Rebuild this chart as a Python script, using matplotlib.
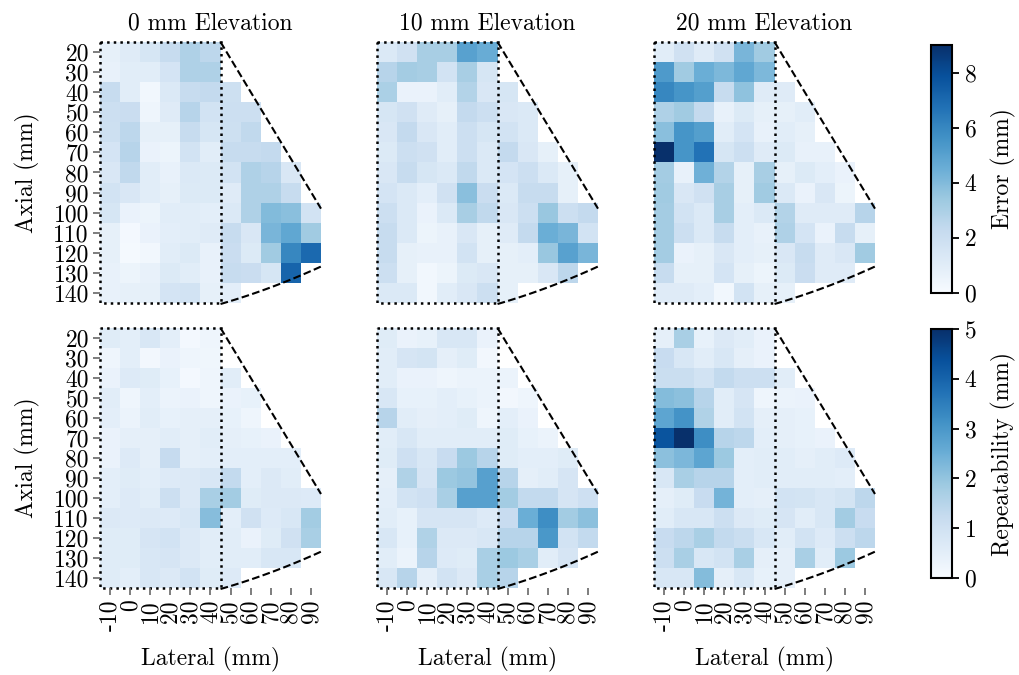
import numpy as np
import matplotlib
matplotlib.use("Agg")
import matplotlib.pyplot as plt
from matplotlib.patches import Rectangle

plt.rcParams['font.family'] = 'serif'
plt.rcParams['font.serif'] = ['cmr10', 'DejaVu Serif']
plt.rcParams['mathtext.fontset'] = 'cm'
plt.rcParams['axes.unicode_minus'] = False
plt.rcParams['axes.formatter.use_mathtext'] = True

n = np.nan
lateral = [-10, 0, 10, 20, 30, 40, 50, 60, 70, 80, 90]
axial = [20, 30, 40, 50, 60, 70, 80, 90, 100, 110, 120, 130, 140]
titles = ["0 mm Elevation", "10 mm Elevation", "20 mm Elevation"]

# error (mm), rows = axial, cols = lateral
err_0 = np.array([
    [0.8, 1.1, 1.5, 2.2, 2.9, 2.5, n, n, n, n, n],
    [0.7, 1.0, 1.0, 1.6, 2.9, 2.9, n, n, n, n, n],
    [2.2, 1.0, 0.3, 1.3, 2.2, 2.3, 1.9, n, n, n, n],
    [2.0, 2.1, 0.4, 1.1, 2.7, 1.7, 2.0, 2.0, n, n, n],
    [1.9, 2.5, 0.8, 0.8, 2.2, 1.5, 1.9, 2.4, n, n, n],
    [1.6, 2.7, 0.6, 0.5, 1.7, 1.0, 2.2, 2.2, 2.3, n, n],
    [1.4, 2.4, 1.0, 0.7, 1.3, 1.2, 1.7, 2.9, 2.7, 1.4, n],
    [1.7, 1.4, 1.0, 0.8, 1.2, 1.2, 1.1, 2.9, 2.9, 2.2, n],
    [1.5, 0.6, 0.5, 1.0, 1.0, 0.9, 1.3, 2.9, 4.0, 3.8, 1.7],
    [0.8, 0.2, 0.6, 0.9, 1.0, 1.1, 2.2, 1.4, 4.2, 4.8, 3.3],
    [0.8, 0.15, 0.3, 1.0, 1.2, 0.7, 2.1, 1.2, 3.3, 6.0, 7.0],
    [0.7, 0.5, 0.7, 1.2, 1.0, 0.7, 2.2, 2.1, 1.5, 7.2, n],
    [0.7, 0.8, 0.8, 1.6, 1.7, 0.8, 0.9, n, n, n, n],
])
err_10 = np.array([
    [1.3, 1.8, 3.1, 3.1, 5.0, 4.6, n, n, n, n, n],
    [2.7, 3.2, 3.1, 1.7, 3.1, 1.5, n, n, n, n, n],
    [3.0, 0.6, 0.6, 1.0, 2.8, 1.4, 1.5, n, n, n, n],
    [1.5, 1.8, 1.1, 0.8, 2.3, 2.0, 1.4, 1.3, n, n, n],
    [1.4, 2.3, 1.4, 1.0, 2.0, 1.5, 1.7, 1.3, n, n, n],
    [1.2, 2.0, 1.8, 1.0, 2.0, 1.3, 2.3, 1.4, 0.8, n, n],
    [1.4, 2.2, 1.5, 1.3, 2.4, 1.3, 1.6, 2.0, 1.3, 0.8, n],
    [1.6, 1.3, 0.9, 1.8, 3.8, 2.1, 1.3, 2.2, 2.2, 0.8, n],
    [2.0, 1.3, 0.6, 1.3, 3.1, 2.4, 1.4, 2.0, 3.5, 2.0, 2.3],
    [2.2, 1.3, 0.5, 0.7, 1.4, 0.8, 1.1, 2.3, 4.5, 4.2, 1.7],
    [2.2, 0.8, 0.7, 0.7, 1.7, 0.8, 0.8, 0.9, 3.5, 5.0, 4.2],
    [2.0, 0.8, 0.3, 0.5, 1.2, 1.4, 0.8, 0.8, 1.4, 2.5, n],
    [1.3, 1.3, 0.3, 1.0, 1.4, 2.0, 0.8, n, n, n, n],
])
err_20 = np.array([
    [1.0, 1.8, 1.1, 1.8, 4.2, 3.3, n, n, n, n, n],
    [5.3, 3.3, 4.5, 4.1, 4.8, 4.1, n, n, n, n, n],
    [6.0, 5.5, 5.1, 2.2, 3.7, 1.1, 1.1, n, n, n, n],
    [2.9, 3.3, 2.3, 0.7, 1.2, 0.8, 0.8, 1.0, n, n, n],
    [3.8, 5.5, 5.1, 1.0, 1.6, 0.7, 1.0, 0.8, n, n, n],
    [9.0, 5.5, 6.7, 1.5, 2.0, 1.1, 1.2, 0.7, 0.7, n, n],
    [3.2, 0.7, 4.4, 2.8, 0.8, 3.1, 0.8, 1.2, 0.9, 0.6, n],
    [3.3, 1.4, 1.8, 3.1, 0.8, 3.3, 1.3, 0.6, 1.4, 0.5, n],
    [3.2, 1.7, 1.3, 3.1, 0.9, 1.3, 2.8, 1.1, 1.1, 1.1, 2.7],
    [3.2, 2.0, 1.3, 2.2, 0.9, 0.7, 2.9, 1.6, 0.6, 2.2, 0.8],
    [3.2, 0.6, 0.8, 1.4, 0.9, 0.8, 1.4, 2.2, 1.1, 1.4, 3.3],
    [2.2, 0.8, 0.8, 1.6, 0.8, 0.5, 1.2, 2.1, 1.1, 1.1, n],
    [1.1, 1.1, 0.9, 0.3, 1.7, 0.8, 0.8, n, n, n, n],
])

# repeatability (mm)
rep_0 = np.array([
    [0.6, 0.5, 0.8, 0.5, 0.1, 0.25, n, n, n, n, n],
    [0.25, 0.5, 0.15, 0.35, 0.25, 0.2, n, n, n, n, n],
    [0.35, 0.65, 0.6, 0.4, 0.1, 0.25, 0.55, n, n, n, n],
    [0.55, 0.25, 0.5, 0.3, 0.35, 0.25, 0.35, 0.4, n, n, n],
    [0.5, 0.3, 0.55, 0.4, 0.45, 0.45, 0.4, 0.25, n, n, n],
    [0.35, 0.45, 0.45, 0.55, 0.45, 0.55, 0.45, 0.4, 0.35, n, n],
    [0.35, 0.65, 0.45, 1.25, 0.45, 0.5, 0.5, 0.5, 0.5, 0.5, n],
    [0.5, 0.6, 0.5, 0.65, 0.7, 0.8, 1.3, 0.5, 0.7, 0.55, n],
    [0.5, 0.65, 0.55, 1.1, 0.7, 1.7, 1.8, 0.6, 0.7, 0.7, 0.65],
    [0.7, 0.65, 0.7, 0.65, 0.8, 2.15, 0.5, 1.0, 0.65, 0.8, 1.8],
    [0.6, 0.6, 0.85, 0.95, 0.7, 0.55, 0.55, 0.35, 0.6, 1.0, 1.7],
    [0.6, 0.6, 0.8, 0.85, 0.7, 0.55, 0.55, 0.55, 0.8, 0.8, n],
    [0.6, 0.5, 0.8, 0.7, 0.95, 0.6, 0.65, n, n, n, n],
])
rep_10 = np.array([
    [0.6, 0.35, 0.4, 0.8, 0.8, 0.35, n, n, n, n, n],
    [0.55, 0.85, 0.9, 0.45, 0.6, 0.15, n, n, n, n, n],
    [0.55, 0.35, 0.35, 0.25, 0.3, 0.3, 0.3, n, n, n, n],
    [0.8, 0.4, 0.4, 0.5, 0.4, 0.3, 0.15, 0.25, n, n, n],
    [1.5, 0.55, 0.45, 0.5, 0.6, 0.25, 0.5, 0.35, n, n, n],
    [0.55, 0.8, 0.55, 0.55, 0.55, 0.55, 0.6, 0.4, 0.3, n, n],
    [0.6, 1.05, 0.8, 1.2, 1.9, 1.5, 0.6, 0.5, 0.5, 0.6, n],
    [0.45, 1.6, 0.85, 1.9, 2.0, 2.8, 1.5, 0.45, 0.55, 0.85, n],
    [0.5, 0.95, 1.05, 1.7, 2.8, 2.8, 1.8, 1.3, 1.3, 0.85, 1.05],
    [0.55, 0.4, 0.85, 0.85, 0.85, 0.65, 1.2, 2.5, 3.2, 1.8, 2.1],
    [0.8, 0.4, 1.6, 0.7, 0.7, 0.8, 1.5, 1.5, 3.0, 0.95, 1.3],
    [0.55, 0.3, 1.5, 0.65, 0.6, 1.7, 1.9, 1.7, 0.55, 0.85, n],
    [0.8, 1.5, 0.45, 0.95, 0.7, 1.7, 1.5, n, n, n, n],
])
rep_20 = np.array([
    [0.45, 1.7, 0.4, 0.7, 0.55, 0.35, n, n, n, n, n],
    [1.2, 0.8, 0.55, 0.8, 0.45, 0.35, n, n, n, n, n],
    [1.15, 1.15, 0.95, 1.3, 1.1, 1.1, 0.55, n, n, n, n],
    [2.2, 2.1, 1.5, 0.55, 0.85, 0.25, 0.3, 0.35, n, n, n],
    [2.7, 3.1, 1.6, 0.55, 0.95, 0.45, 0.45, 0.4, n, n, n],
    [4.3, 5.0, 3.2, 1.5, 1.4, 0.5, 0.45, 0.4, 0.35, n, n],
    [2.1, 2.3, 2.7, 1.9, 0.5, 0.55, 0.55, 0.45, 0.55, 0.65, n],
    [0.8, 1.7, 1.5, 1.5, 0.5, 0.55, 0.55, 0.55, 0.55, 0.5, n],
    [0.45, 0.6, 1.2, 2.4, 0.5, 0.45, 0.95, 0.9, 0.8, 0.9, 1.4],
    [0.55, 0.8, 0.8, 1.1, 0.7, 0.6, 0.85, 0.55, 0.8, 1.8, 1.2],
    [1.2, 1.4, 1.7, 1.3, 1.15, 0.8, 0.55, 0.95, 0.65, 1.1, 1.4],
    [1.1, 1.7, 0.8, 0.95, 1.7, 0.45, 0.45, 1.7, 0.55, 1.9, n],
    [0.8, 0.8, 2.2, 0.45, 0.8, 0.4, 0.45, n, n, n, n],
])

# imaging field outline (lateral, axial)
edge_lat = [45, 95]
edge_ax = [15, 98]
arc_lat = [45, 75, 95.5]
arc_ax = [145.5, 135.3, 126.6]

W, H = 1019, 675
fig = plt.figure(figsize=(W / 100, H / 100), dpi=100)

def box(x0, y0, x1, y1):
    return [x0 / W, 1 - y1 / H, (x1 - x0) / W, (y1 - y0) / H]

xcols = [(100, 321), (377, 598), (654, 875)]
yrows = [(42, 303), (328, 588)]

lat = np.array(lateral)
ax_ = np.array(axial)
x_edges = np.append(lat - 5, lat[-1] + 5)
y_edges = np.append(ax_ - 5, ax_[-1] + 5)

coef = np.polyfit(arc_lat, arc_ax, 2)
arc_x = np.linspace(arc_lat[0], arc_lat[-1], 60)
arc_y = np.polyval(coef, arc_x)

fs = 17
rows = [([err_0, err_10, err_20], 9, "Error (mm)", [0, 2, 4, 6, 8]),
        ([rep_0, rep_10, rep_20], 5, "Repeatability (mm)", [0, 1, 2, 3, 4, 5])]

for r, (datas, vmax, clabel, cticks) in enumerate(rows):
    for c, d in enumerate(datas):
        ax = fig.add_axes(box(xcols[c][0], yrows[r][0], xcols[c][1], yrows[r][1]))
        m = ax.pcolormesh(x_edges, y_edges, np.ma.masked_invalid(d),
                          cmap='Blues', vmin=0, vmax=vmax)
        ax.set_xlim(x_edges[0], x_edges[-1])
        ax.set_ylim(y_edges[-1], y_edges[0])
        for s in ax.spines.values():
            s.set_visible(False)
        ax.add_patch(Rectangle((x_edges[0], y_edges[0]), 60, y_edges[-1] - y_edges[0],
                               fill=False, ls=':', lw=1.8, ec='k', clip_on=False))
        ax.plot(edge_lat, edge_ax, ls='--', color='k', lw=1.5, clip_on=False)
        ax.plot(arc_x, arc_y, ls='--', color='k', lw=1.5, clip_on=False)
        ax.tick_params(color='0.45', length=5, width=1.3, labelsize=fs, pad=3)
        if c == 0:
            ax.set_yticks(axial)
            ax.set_yticklabels([str(v) for v in axial])
            ax.set_ylabel("Axial (mm)", fontsize=fs, labelpad=10)
        else:
            ax.set_yticks([])
        if r == 1:
            ax.set_xticks(lateral)
            ax.set_xticklabels([str(v) for v in lateral], rotation=90)
            ax.set_xlabel("Lateral (mm)", fontsize=fs, labelpad=12)
        else:
            ax.set_xticks([])
            ax.set_title(titles[c], fontsize=fs, pad=9)
    cy = [(45, 293), (329, 578)][r]
    cax = fig.add_axes(box(931, cy[0], 952, cy[1]))
    cb = fig.colorbar(m, cax=cax, ticks=cticks)
    cb.outline.set_linewidth(1.5)
    cax.tick_params(length=5, width=1.3, labelsize=fs)
    cb.set_label(clabel, fontsize=fs, labelpad=10)

fig.savefig("out.png", dpi=100)
